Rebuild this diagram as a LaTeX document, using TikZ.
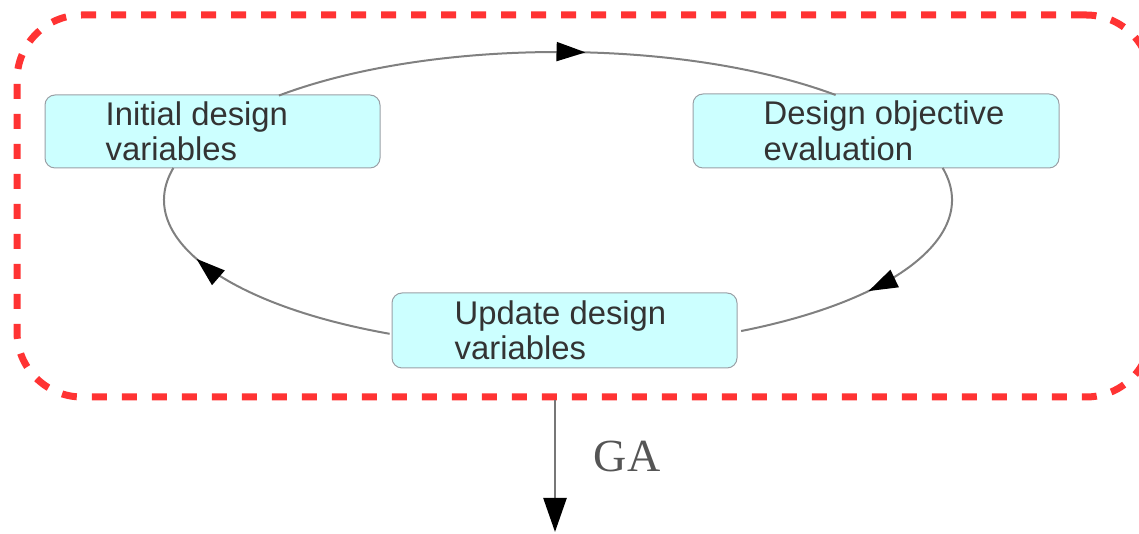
\documentclass[tikz,border=0pt]{standalone}
\usepackage{fontspec}
\setmainfont{Liberation Sans}
\newfontfamily\gafont{Liberation Serif}
\usetikzlibrary{arrows.meta,decorations.markings,calc}
\definecolor{boxfill}{HTML}{CCFFFF}
\definecolor{boxline}{HTML}{9AA0A6}
\definecolor{txt}{HTML}{333333}
\definecolor{flowgray}{HTML}{808080}
\definecolor{dashred}{HTML}{FF3333}
\definecolor{gatext}{HTML}{555555}
\definecolor{galine}{HTML}{777777}
\begin{document}
\begin{tikzpicture}[x=1pt,y=1pt,
  procbox/.style={draw=boxline, line width=1pt, fill=boxfill, rounded corners=10pt, inner sep=0pt},
  proctext/.style={anchor=west, align=left, inner sep=0pt, text=txt, font=\fontsize{32.8}{35.5}\selectfont},
  flow/.style={draw=flowgray, line width=2pt},
  midarrow/.style={postaction={decorate}, decoration={markings, mark=at position #1 with {\arrow{Triangle[length=29pt,width=19pt,color=black]}}}},
  loopbox/.style={draw=dashred, line width=7pt, dash pattern=on 15pt off 15pt, rounded corners=65pt, inner sep=0pt},
  gaarrow/.style={draw=galine, line width=2.5pt, -{Triangle[length=34pt,width=23pt,color=black]}},
]
\useasboundingbox (0,0) rectangle (1139,534);

% dashed GA loop
\node[loopbox, minimum width=1134pt, minimum height=382pt] (loop) at (584,328) {};

% process boxes
\node[procbox, minimum width=335pt, minimum height=73pt] (ini) at (212.5,402.5) {};
\node[proctext] (iniT) at ($(ini.west)+(61,0)$) {Initial design\\variables};
\node[procbox, minimum width=366pt, minimum height=74pt] (des) at (876,403) {};
\node[proctext] (desT) at ($(des.west)+(71,0)$) {Design objective\\evaluation};
\node[procbox, minimum width=345pt, minimum height=75pt] (upd) at (564.5,203.5) {};
\node[proctext] (updT) at ($(upd.west)+(63,0)$) {Update design\\variables};

% cycle connectors (arcs of one ellipse)
\coordinate (C) at (558,334);
\path (C) ++(135.1:394pt and 148pt) coordinate (iniOut);
\path (C) ++(12.5:394pt and 148pt) coordinate (desOut);
\path (C) ++(244.7:394pt and 148pt) coordinate (updOut);
\draw[flow, midarrow=0.55] (iniOut) arc[start angle=135.1, end angle=45.2, x radius=394pt, y radius=148pt];
\draw[flow, midarrow=0.55] (desOut) arc[start angle=12.5, end angle=-62.3, x radius=394pt, y radius=148pt];
\draw[flow, midarrow=0.67] (updOut) arc[start angle=244.7, end angle=167.5, x radius=394pt, y radius=148pt];

% GA output
\coordinate (gaEnd) at (555,2);
\draw[gaarrow] (loop.south -| gaEnd) -- (gaEnd);
\node[anchor=base west, inner sep=0pt, text=gatext, font=\gafont\fontsize{46}{50}\selectfont] (ga) at (593.6,62) {GA};
\end{tikzpicture}
\end{document}
